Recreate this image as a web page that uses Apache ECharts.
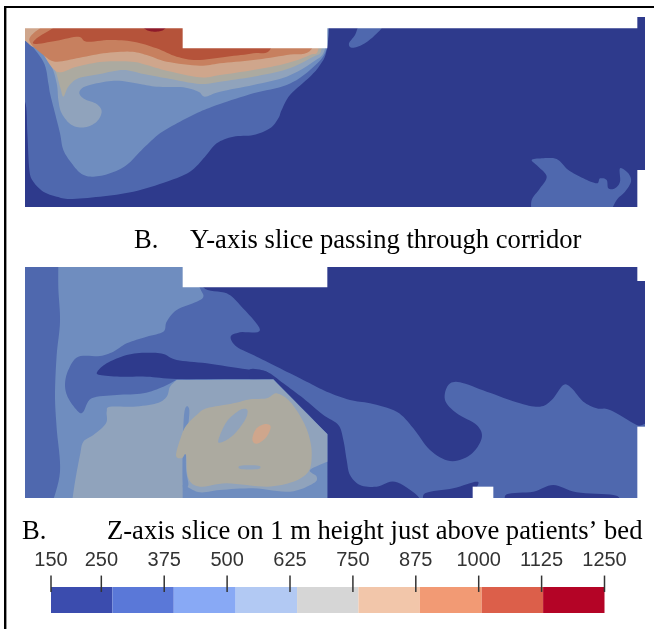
<!DOCTYPE html>
<html><head><meta charset="utf-8">
<style>html,body{margin:0;padding:0;background:#fff}#c{width:658px;height:629px}</style>
<script src="https://cdn.jsdelivr.net/npm/echarts@6/dist/echarts.min.js"></script>
</head><body><div id="c"></div>
<script>
// Colour bar
const barEdges=[150,272,394,517,639,761,883,1006,1128,1250];
const barColors=['#3B4CAE','#5A78D8','#88A9F5','#B2C9F3','#D6D6D6','#F2C6AA','#F29A74','#DC5F4A','#B40426'];
const tickValues=[150,250,375,500,625,750,875,1000,1125,1250];
// Muted slice colours per contour band
const sliceColors=['#2E3A8C','#4F68AE','#6F8DBF','#90A3BC','#ACAAA0','#CFA68C','#C7805F','#B5533A','#8E1A2A'];

// Y-axis slice contours, position along the room (x) and depth (y)
const top1=[[40,290],[75,305],[82,400],[88,510],[100,545],[130,575],[170,590],[210,597],[300,590],[400,575],[500,545],[570,515],[615,470],[650,430],[700,410],[760,405],[810,385],[835,355],[845,330],[870,285],[930,230],[960,195],[980,150],[990,30],[990,30],[40,30],[40,30]];
const topBlobA=[[1085,70],[1065,105],[1047,130],[1055,143],[1085,135],[1120,110],[1147,75]];
const topBlobB=[[1595,480],[1625,475],[1670,477],[1705,510],[1750,535],[1790,550],[1800,535],[1820,540],[1825,565],[1845,565],[1860,545],[1860,505],[1885,520],[1893,545],[1875,575],[1850,600],[1830,640],[1830,640],[1595,640],[1595,640],[1595,600],[1620,565],[1640,530],[1615,500]];
const top2=[[40,85],[75,115],[130,185],[145,250],[150,280],[165,340],[180,400],[190,450],[215,490],[245,522],[280,530],[330,520],[380,495],[430,445],[480,400],[540,365],[600,335],[660,312],[760,280],[860,255],[930,210],[980,147],[985,30],[985,30],[40,30],[40,30]];
const top3=[[40,90],[100,130],[150,190],[170,250],[175,300],[185,340],[215,375],[255,382],[290,365],[305,335],[290,312],[255,298],[238,280],[250,262],[290,250],[350,242],[420,252],[470,260],[550,262],[595,275],[615,290],[660,275],[760,255],[860,230],[940,185],[975,147],[985,30],[985,30],[40,30],[40,30]];
const top4=[[40,100],[110,140],[160,200],[180,260],[190,290],[205,260],[235,235],[300,222],[370,210],[430,222],[500,235],[600,252],[660,245],[760,230],[860,208],[940,170],[965,147],[980,30],[980,30],[40,30],[40,30]];
const top5=[[40,80],[90,135],[120,150],[170,215],[230,200],[310,185],[395,185],[440,195],[500,212],[600,232],[660,225],[760,210],[860,190],[930,165],[955,147],[960,30],[960,30],[40,30],[40,30]];
const top6=[[150,60],[95,105],[92,130],[130,165],[165,185],[230,175],[310,160],[390,155],[440,165],[500,185],[600,197],[660,190],[760,180],[860,165],[935,147],[945,30],[945,30],[150,30],[150,30]];
const top7=[[185,65],[110,115],[105,132],[170,122],[235,110],[260,125],[330,120],[400,125],[470,145],[530,170],[590,180],[680,170],[760,160],[812,146],[830,30],[830,30],[185,30],[185,30]];
const top8=[[430,75],[440,90],[465,95],[490,90],[495,75]];

// Z-axis slice contours
const low1=[[50,20],[50,20],[610,20],[610,20],[610,97],[680,115],[720,150],[780,225],[720,232],[692,245],[710,275],[770,305],[840,340],[920,380],[980,410],[1050,435],[1110,445],[1190,470],[1240,520],[1290,585],[1350,618],[1410,600],[1445,550],[1430,510],[1370,475],[1335,435],[1345,390],[1380,382],[1460,410],[1560,445],[1620,455],[1655,435],[1690,390],[1715,400],[1750,440],[1790,460],[1830,465],[1910,510],[1950,525],[1950,750],[1950,750],[50,750],[50,750]];
const lowLens=[[292,350],[320,325],[380,300],[440,293],[490,297],[530,315],[620,325],[740,343],[800,350],[810,373],[810,373],[700,372],[530,372],[440,365],[360,365],[300,360]];
const lowCorridor=[[750,343],[800,350],[850,385],[910,430],[970,480],[1015,510],[1030,555],[1040,615],[1050,660],[1080,690],[1130,695],[1185,680],[1250,720],[1265,750],[1265,750],[982,750],[982,750],[982,537],[982,537],[820,373],[820,373],[750,373],[750,373]];
const lowPatchA=[[1275,715],[1360,700],[1430,680],[1430,700],[1415,750],[1415,750],[1275,750],[1275,750]];
const lowPatchB=[[1520,718],[1600,710],[1660,690],[1730,712],[1840,720],[1860,735],[1860,750],[1860,750],[1520,750],[1520,750]];
const low2=[[175,20],[175,20],[560,20],[560,20],[600,100],[610,125],[590,140],[530,165],[500,200],[490,230],[440,245],[380,265],[340,290],[300,303],[235,305],[205,345],[195,390],[205,430],[235,470],[250,470],[275,430],[350,420],[430,415],[490,395],[530,374],[530,374],[820,373],[820,373],[982,537],[982,537],[982,750],[982,750],[155,750],[155,750],[180,650],[170,520],[165,420],[170,300],[180,200],[175,100]];
const low3=[[330,455],[400,455],[470,445],[500,425],[510,395],[530,375],[530,375],[820,374],[820,374],[982,538],[982,538],[982,620],[982,620],[930,645],[950,665],[940,685],[870,710],[760,700],[660,705],[600,712],[560,695],[548,690],[548,690],[548,750],[548,750],[215,750],[215,750],[225,680],[240,600],[250,560],[280,540],[318,505],[320,470]];
const lowStrip=[[548,690],[552,480],[568,465],[560,560],[558,640],[565,690]];
const low4=[[590,480],[620,460],[700,445],[750,433],[800,430],[830,415],[870,440],[910,500],[930,555],[935,605],[925,650],[880,680],[800,695],[680,685],[600,695],[565,670],[558,600],[545,610],[528,600],[545,540],[560,510]];
const lowOval=[[655,555],[680,500],[720,465],[742,465],[735,495],[700,540],[665,562]];
const lowSpot=[[758,545],[770,520],[795,507],[812,515],[800,545],[775,565],[760,562]];
const lowDash=[[722,632],[775,632],[775,642],[722,642]];

// Walls: parts of each slice's frame that lie outside the room
const topWalls=[[[548,40],[982,40],[982,145],[548,145]],[[60,40],[1912,40],[1912,85],[60,85]],[[1912,510],[1940,510],[1940,630],[1912,630]]];
const lowWalls=[[[548,30],[982,30],[982,97],[548,97]],[[1912,30],[1940,30],[1940,78],[1912,78]],[[1912,515],[1940,515],[1940,735],[1912,735]],[[1418,695],[1480,695],[1480,735],[1418,735]]];

const topLayers=[[1,top1],[1,topBlobA],[1,topBlobB],[2,top2],[3,top3],[4,top4],[5,top5],[6,top6],[7,top7],[8,top8]];
const lowLayers=[[1,low1],[0,lowLens],[0,lowCorridor],[0,lowPatchA],[0,lowPatchB],[2,low2],[3,low3],[2,lowStrip],[4,low4],[3,lowOval],[5,lowSpot],[3,lowDash]];

// Rounded contour outline drawn through the traced points (repeat a point for a corner)
function ring(pts,coord){
  const n=pts.length,out=[];
  for(let i=0;i<n;i++){
    const a=coord(pts[(i-1+n)%n]),b=coord(pts[i]),c=coord(pts[(i+1)%n]),d=coord(pts[(i+2)%n]);
    if(b[0]===c[0]&&b[1]===c[1])continue;
    for(let s=0;s<8;s++){
      const t=s/8,t2=t*t,t3=t2*t;
      out.push([0,1].map(k=>0.5*(2*b[k]+(c[k]-a[k])*t+(2*a[k]-5*b[k]+4*c[k]-d[k])*t2+(3*b[k]-a[k]-3*c[k]+d[k])*t3)));
    }
  }
  return out;
}
function polySeries(grid,layers,rounded,color,z){
  return {type:'custom',xAxisIndex:grid,yAxisIndex:grid,clip:true,silent:true,z:z,animation:false,
    data:layers.map((l,i)=>[i]),
    renderItem:function(p,api){
      const l=layers[p.dataIndex];
      const pts=rounded?ring(l[1],q=>api.coord(q)):l[1].map(q=>api.coord(q));
      return {type:'polygon',shape:{points:pts},style:{fill:color||sliceColors[l[0]]}};
    }};
}
const frame=(a)=>a.map(w=>[9,w]);

const chart=echarts.init(document.getElementById('c'),null,{renderer:'canvas'});
const hidden=(o)=>Object.assign({type:'value',show:false},o);
const cap={fontFamily:'Liberation Serif',fontSize:26.6,fontWeight:'normal',color:'#000'};
chart.setOption({
  animation:false,backgroundColor:'#fff',
  title:[
    {text:'B.',left:134,top:228,padding:0,textStyle:cap},
    {text:'Y-axis slice passing through corridor',left:190,top:228,padding:0,textStyle:cap},
    {text:'B.',left:22,top:519,padding:0,textStyle:cap},
    {text:'Z-axis slice on 1 m height just above patients\u2019 bed',left:107,top:519,padding:0,textStyle:cap}
  ],
  grid:[
    {left:25,top:17,width:620,height:190,show:true,backgroundColor:sliceColors[0],borderWidth:0},
    {left:25,top:267,width:620,height:231,show:true,backgroundColor:sliceColors[0],borderWidth:0},
    {left:51,top:587,width:553.5,height:26}
  ],
  xAxis:[
    hidden({gridIndex:0,min:75,max:1935}),
    hidden({gridIndex:1,min:75,max:1935}),
    {type:'value',gridIndex:2,position:'top',offset:-5,min:150,max:1250,
     axisLine:{show:false},splitLine:{show:false},axisTick:{show:false},
     axisLabel:{show:true,margin:22,customValues:tickValues,formatter:v=>String(v),hideOverlap:false,showMinLabel:true,showMaxLabel:true,fontFamily:'Liberation Sans',fontSize:20,color:'#333'}}
  ],
  yAxis:[
    hidden({gridIndex:0,min:51,max:621,inverse:true}),
    hidden({gridIndex:1,min:36,max:729,inverse:true}),
    hidden({gridIndex:2,min:0,max:1})
  ],
  series:[
    polySeries(0,topLayers,true,null,2),
    polySeries(1,lowLayers,true,null,2),
    polySeries(0,frame(topWalls),false,'#fff',3),
    polySeries(1,frame(lowWalls),false,'#fff',3),
    {type:'custom',xAxisIndex:2,yAxisIndex:2,silent:true,z:1,animation:false,
     data:barColors.map((c,i)=>[barEdges[i],barEdges[i+1]]),
     encode:{x:[0,1]},
     renderItem:function(p,api){
       const a=api.coord([api.value(0),0]),b=api.coord([api.value(1),1]);
       return {type:'rect',shape:{x:a[0],y:b[1],width:b[0]-a[0],height:a[1]-b[1]},style:{fill:barColors[p.dataIndex]}};
     }},
    {type:'custom',xAxisIndex:2,yAxisIndex:2,silent:true,z:4,animation:false,
     data:tickValues.map(v=>[v]),
     encode:{x:0},
     renderItem:function(p,api){
       const a=api.coord([api.value(0),0.81]),b=api.coord([api.value(0),1.44]);
       return {type:'line',shape:{x1:a[0],y1:a[1],x2:b[0],y2:b[1]},style:{stroke:'#333',lineWidth:1.5}};
     }}
  ],
  graphic:[
    {type:'line',silent:true,shape:{x1:5.2,y1:6,x2:5.2,y2:629},style:{stroke:'#000',lineWidth:2.4}},
    {type:'line',silent:true,shape:{x1:4,y1:7,x2:654,y2:7},style:{stroke:'#000',lineWidth:2}}
  ]
});
</script></body></html>
